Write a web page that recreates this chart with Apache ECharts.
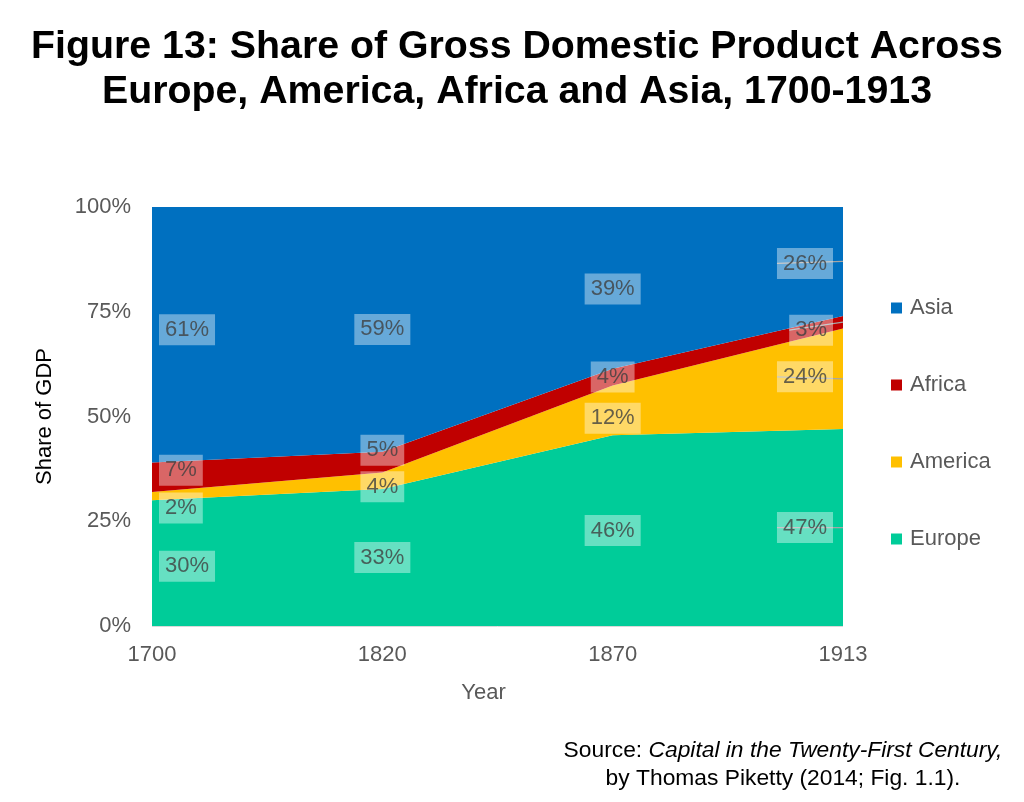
<!DOCTYPE html>
<html>
<head>
<meta charset="utf-8">
<style>
html,body{margin:0;padding:0;background:#fff;}
#chart{width:1024px;height:802px;}
</style>
<script src="https://cdn.jsdelivr.net/npm/echarts@6/dist/echarts.min.js"></script>
</head>
<body>
<div id="chart"></div>
<script>
// ---- data (percent of world GDP) ----
const years = ['1700', '1820', '1870', '1913'];
const europe = [30, 33, 46, 47];
const america = [2, 4, 12, 24];
const africa = [7, 5, 4, 3];
const asia = [61, 59, 39, 26];
const yTicks = [0, 25, 50, 75, 100];

// ---- styles ----
const FONT = "'Liberation Sans', Arial, sans-serif";
const regions = [
  { name: 'Europe', values: europe, color: '#00CC99' },
  { name: 'America', values: america, color: '#FFC000' },
  { name: 'Africa', values: africa, color: '#C00000' },
  { name: 'Asia', values: asia, color: '#0070C0' }
];
// pixel nudges for label boxes (Excel overlap avoidance)
const labelNudge = {
  Europe: [3, 0, 0, 0],
  America: [12, 6, 8, -2],
  Africa: [-7, -12, 0, 8],
  Asia: [-5, 0, 1, 2]
};

// 100% stacked: normalise each year
const totals = years.map((_, i) => regions.reduce((s, r) => s + r.values[i], 0));
const shares = regions.map(r => r.values.map((v, i) => v / totals[i] * 100));

const series = [];
regions.forEach((r, k) => {
  series.push({
    name: r.name,
    type: 'line',
    stack: 'total',
    data: shares[k],
    symbol: 'none',
    lineStyle: { width: 0 },
    itemStyle: { color: r.color },
    areaStyle: { color: r.color, opacity: 1 },
    emphasis: { disabled: true },
    z: 2
  });
});

// label points at band midpoints
const labelData = [];
const labelDy = [];
regions.forEach((r, k) => {
  years.forEach((y, i) => {
    let base = 0;
    for (let j = 0; j < k; j++) base += shares[j][i];
    const mid = base + shares[k][i] / 2;
    let lbl;
    if (i === 0) lbl = { position: 'right', distance: 7 };
    else if (i === years.length - 1) lbl = { position: 'left', distance: 10 };
    else lbl = { position: 'inside' };
    labelDy.push(labelNudge[r.name][i]);
    labelData.push({
      value: [i, mid],
      raw: r.values[i],
      label: lbl,
      labelLine: { show: i === years.length - 1 }
    });
  });
});

series.push({
  type: 'scatter',
  data: labelData,
  symbolSize: 0,
  silent: true,
  z: 10,
  label: {
    show: true,
    formatter: p => p.data.raw + '%',
    fontFamily: FONT,
    fontSize: 22,
    color: '#404040',
    backgroundColor: 'rgba(255,255,255,0.5)',
    padding: [5, 6, 4, 6],
    lineHeight: 22
  },
  labelLayout: p => ({ dy: labelDy[p.dataIndex] }),
  labelLine: {
    lineStyle: { color: '#A6A6A6', width: 1.3 }
  }
});

const chart = echarts.init(document.getElementById('chart'), null, { renderer: 'canvas' });
chart.setOption({
  backgroundColor: '#ffffff',
  animation: false,
  legend: {
    orient: 'vertical',
    left: 886,
    top: 292,
    itemWidth: 11,
    itemHeight: 11,
    itemGap: 55,
    icon: 'rect',
    data: ['Asia', 'Africa', 'America', 'Europe'],
    textStyle: {
      fontFamily: FONT,
      fontSize: 22,
      color: '#595959',
      padding: [0, 0, 0, 3]
    }
  },
  grid: { left: 152, right: 181, top: 207, bottom: 176, containLabel: false },
  xAxis: {
    type: 'category',
    data: years,
    boundaryGap: false,
    name: 'Year',
    nameLocation: 'middle',
    nameGap: 56,
    nameTextStyle: { fontFamily: FONT, fontSize: 22, color: '#595959', padding: [0, 28, 0, 0] },
    axisLine: { show: false },
    axisTick: { show: false },
    axisLabel: { fontFamily: FONT, fontSize: 22, color: '#595959', margin: 18 },
    splitLine: { show: false }
  },
  yAxis: {
    type: 'value',
    min: yTicks[0],
    max: yTicks[yTicks.length - 1],
    interval: yTicks[1] - yTicks[0],
    name: 'Share of GDP',
    nameLocation: 'middle',
    nameRotate: 90,
    nameGap: 96,
    nameTextStyle: { fontFamily: FONT, fontSize: 22, color: '#000000' },
    axisLine: { show: false },
    axisTick: { show: false },
    axisLabel: { fontFamily: FONT, fontSize: 22, color: '#595959', margin: 21, formatter: '{value}%' },
    splitLine: { show: true, lineStyle: { color: '#D9D9D9', width: 1 } }
  },
  graphic: [{
    type: 'text',
    x: 517,
    y: 25,
    style: {
      text: 'Figure 13: Share of Gross Domestic Product Across\nEurope, America, Africa and Asia, 1700-1913',
      align: 'center',
      verticalAlign: 'top',
      fontFamily: FONT,
      fontSize: 39.3,
      fontWeight: 'bold',
      fill: '#000000',
      lineHeight: 45
    }
  }, {
    type: 'text',
    x: 783,
    y: 737,
    style: {
      text: '{n|Source: }{i|Capital in the Twenty-First Century,}\n{n|by Thomas Piketty (2014; Fig. 1.1).}',
      align: 'center',
      verticalAlign: 'top',
      rich: {
        n: { fontFamily: FONT, fontSize: 22.8, fill: '#000000', lineHeight: 28 },
        i: { fontFamily: FONT, fontSize: 22.8, fontStyle: 'italic', fill: '#000000', lineHeight: 28 }
      }
    }
  }],
  series: series
});
</script>
</body>
</html>
